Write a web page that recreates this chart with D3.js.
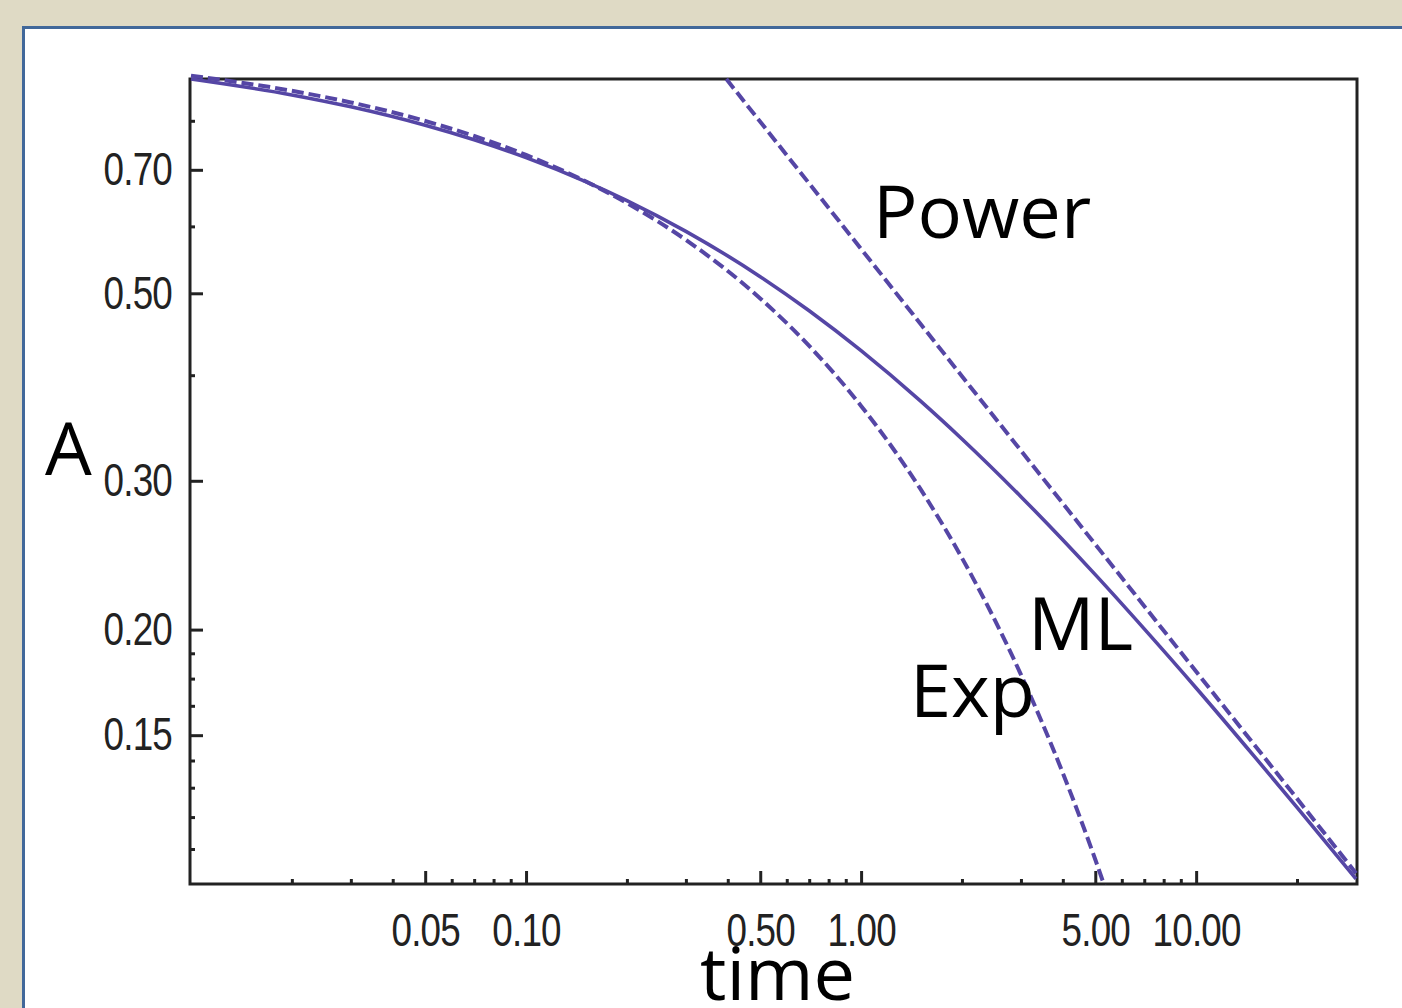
<!DOCTYPE html>
<html>
<head>
<meta charset="utf-8">
<script src="https://cdn.jsdelivr.net/npm/d3@7"></script>
<style>
  body { margin: 0; background: #dfdac5; }
  .tick text { font-family: "Liberation Sans", Arial, sans-serif; font-size: 46px; fill: #222; letter-spacing: -1px; }
  .lbl { font-family: "Open Sans", sans-serif; font-size: 74px; fill: #000; }
</style>
</head>
<body>
<svg width="1402" height="1008"></svg>
<script>
// values (time, A)
var mlTime = [0.01, 0.02, 0.03, 0.05, 0.07, 0.1, 0.15, 0.2, 0.3, 0.5, 0.7, 1, 1.5, 2, 3, 5, 7, 10, 15, 20, 30];
var mlA = [0.8965, 0.8585, 0.8311, 0.7904, 0.7596, 0.7236, 0.6784, 0.6438, 0.5920, 0.5232, 0.4767, 0.4276, 0.3732, 0.3362, 0.2873, 0.2323, 0.2004, 0.1706, 0.1412, 0.1232, 0.1014];
var expTime = [0.01, 0.02, 0.03, 0.05, 0.07, 0.1, 0.15, 0.2, 0.3, 0.5, 0.7, 1, 1.5, 2, 3, 4, 5, 5.5];
var expA = [0.9048, 0.8681, 0.8410, 0.7996, 0.7675, 0.7289, 0.6789, 0.6394, 0.5783, 0.4931, 0.4332, 0.3679, 0.2938, 0.2431, 0.1769, 0.1353, 0.1069, 0.0958];
var powerTime = [0.396, 0.5, 1, 2, 5, 10, 20, 30];
var powerA = [0.8965, 0.7979, 0.5642, 0.3989, 0.2523, 0.1784, 0.1262, 0.1030];

// ticks
var xMajor = [0.05, 0.1, 0.5, 1, 5, 10];
var xMinor = [0.02, 0.03, 0.04, 0.06, 0.07, 0.08, 0.09, 0.2, 0.3, 0.4, 0.6, 0.7, 0.8, 0.9, 2, 3, 4, 6, 7, 8, 9, 20];
var yMajor = [0.15, 0.2, 0.3, 0.5, 0.7];
var yMinor = [0.11, 0.12, 0.13, 0.14, 0.1625, 0.175, 0.1875, 0.4, 0.6, 0.8];

var lineColor = '#5546a5';
var squeeze = 0.8; // tick labels are condensed in the original
var svg = d3.select('svg');

// beige page with the white slide panel
svg.append('rect').attr('width', 1402).attr('height', 1008).attr('fill', '#dfdac5');
svg.append('rect')
  .attr('x', 23.5).attr('y', 27.5).attr('width', 1420).attr('height', 1020)
  .attr('fill', '#fff').attr('stroke', '#41689a').attr('stroke-width', 3);

var x = d3.scaleLog().domain([0.01, 30]).range([191, 1356]);
var y = d3.scaleLog().domain([0.1, 0.8965]).range([884, 79]);

// frame
svg.append('rect')
  .attr('x', 190).attr('y', 79).attr('width', 1167).attr('height', 805)
  .attr('fill', 'none').attr('stroke', '#222').attr('stroke-width', 3);

function styleAxis(g) {
  g.select('.domain').remove();
  g.selectAll('.tick line').attr('stroke', '#222').attr('stroke-width', 3);
}

svg.append('g').attr('transform', 'translate(0,884)')
  .call(d3.axisBottom(x).tickValues(xMinor).tickSize(-5).tickFormat(''))
  .call(styleAxis);
svg.append('g').attr('transform', 'translate(0,884)')
  .call(d3.axisBottom(x).tickValues(xMajor).tickSize(-13).tickPadding(29).tickFormat(d3.format('.2f')))
  .call(styleAxis)
  .selectAll('.tick text').attr('transform', 'scale(' + squeeze + ',1)');
svg.append('g').attr('transform', 'translate(0,0)')
  .call(d3.axisLeft(y).tickValues(yMinor).tickSize(-5).tickFormat(''))
  .attr('transform', 'translate(190,0)')
  .call(styleAxis);
svg.append('g').attr('transform', 'translate(190,0)')
  .call(d3.axisLeft(y).tickValues(yMajor).tickSize(-13).tickPadding(18).tickFormat(d3.format('.2f')))
  .call(styleAxis)
  .selectAll('.tick text')
  .attr('x', -18 / squeeze)
  .attr('transform', 'scale(' + squeeze + ',1)');

// curves
svg.append('clipPath').attr('id', 'plot')
  .append('rect').attr('x', 190).attr('y', 70).attr('width', 1170).attr('height', 815);

var line = d3.line().x(d => x(d[0])).y(d => y(d[1])).curve(d3.curveMonotoneX);
var series = [
  {t: expTime, a: expA, dash: '12,5', w: 4},
  {t: powerTime, a: powerA, dash: '12,5', w: 4},
  {t: mlTime, a: mlA, dash: null, w: 3.6}
];
svg.append('g').attr('clip-path', 'url(#plot)')
  .selectAll('path').data(series).enter()
  .append('path')
  .attr('fill', 'none')
  .attr('stroke', lineColor)
  .attr('stroke-width', d => d.w)
  .attr('stroke-dasharray', d => d.dash)
  .attr('d', d => line(d.t.map((t, i) => [t, d.a[i]])));

// labels
var labels = [
  {text: 'Power', x: 873, y: 238},
  {text: 'ML', x: 1028, y: 650},
  {text: 'Exp', x: 910, y: 717},
  {text: 'A', x: 45, y: 475},
  {text: 'time', x: 700, y: 1000}
];
svg.selectAll('text.lbl').data(labels).enter()
  .append('text').attr('class', 'lbl')
  .attr('x', d => d.x).attr('y', d => d.y)
  .text(d => d.text);
</script>
</body>
</html>
